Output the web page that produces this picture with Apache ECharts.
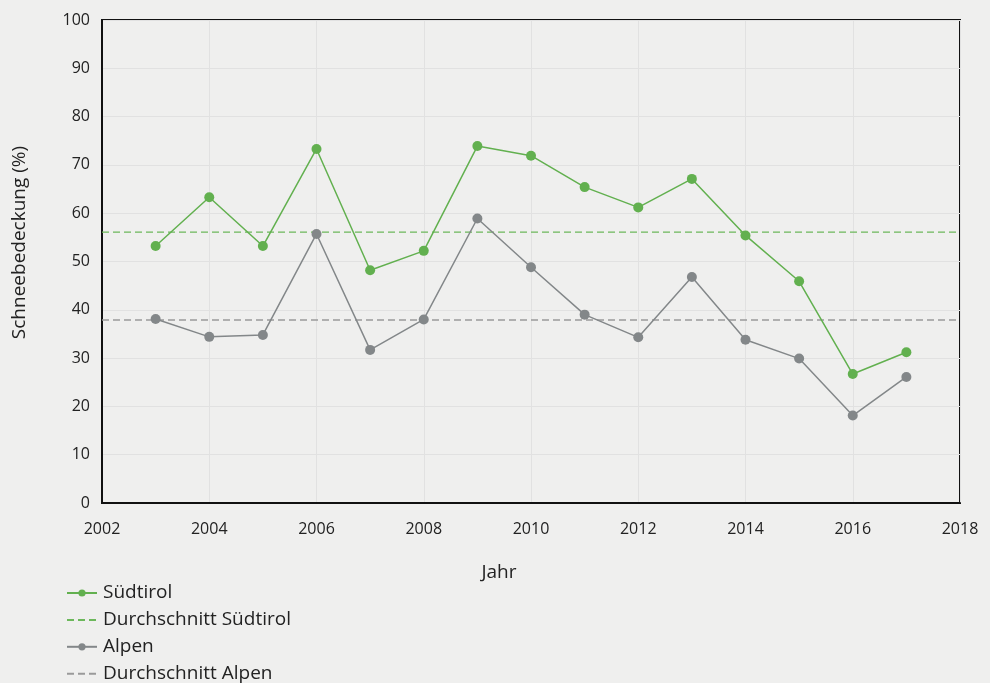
<!DOCTYPE html>
<html>
<head>
<meta charset="utf-8">
<script src="https://cdn.jsdelivr.net/npm/echarts@6/dist/echarts.min.js"></script>
<style>
html,body{margin:0;padding:0;background:#efefee;}
#c{width:990px;height:683px;}
</style>
</head>
<body>
<div id="c"></div>
<script>
const years = [2003,2004,2005,2006,2007,2008,2009,2010,2011,2012,2013,2014,2015,2016,2017];
const suedtirol = [53.2,63.3,53.2,73.3,48.2,52.2,73.9,71.9,65.4,61.2,67.1,55.4,45.9,26.7,31.2];
const alpen = [38.1,34.4,34.8,55.7,31.7,38.0,58.9,48.8,39.0,34.3,46.8,33.8,29.9,18.1,26.1];
const avgSuedtirol = 56.1;
const avgAlpen = 37.9;
const xRange = [2002, 2018];
const names = ['Südtirol','Durchschnitt Südtirol','Alpen','Durchschnitt Alpen'];

const GREEN = '#62b04f';
const GREY = '#838789';
const FONT = 'Open Sans';

const chart = echarts.init(document.getElementById('c'));
chart.setOption({
  backgroundColor: '#efefee',
  animation: false,
  textStyle: {fontFamily: FONT},
  grid: {left: 102, right: 30, top: 20, bottom: 180, show: true, borderColor: '#111', borderWidth: 2, backgroundColor: 'transparent'},
  legend: {
    orient: 'vertical', left: 66, top: 583.5, padding: 0, height: 120, itemGap: 7.9, itemWidth: 30, itemHeight: 9,
    textStyle: {fontFamily: FONT, fontSize: 19, lineHeight: 19, color: '#222', padding: [0,0,0,1]},
    data: [
      {name: names[0]},
      {name: names[1], itemStyle: {opacity: 0}},
      {name: names[2]},
      {name: names[3], itemStyle: {opacity: 0}}
    ]
  },
  xAxis: {
    type: 'value', min: xRange[0], max: xRange[1], interval: 2,
    name: 'Jahr', nameLocation: 'middle', nameGap: 60,
    nameTextStyle: {fontFamily: FONT, fontSize: 19, color: '#222', padding: [0,64,0,0]},
    axisLine: {show: true, lineStyle: {color: '#111', width: 2}},
    axisTick: {show: false},
    axisLabel: {margin: 18, fontSize: 16, color: '#222', fontFamily: FONT, formatter: v => String(v)},
    splitLine: {show: true, lineStyle: {color: '#e1e1e1', width: 1}}
  },
  yAxis: {
    type: 'value', min: 0, max: 100, interval: 10,
    name: 'Schneebedeckung (%)', nameLocation: 'middle', nameGap: 73, nameRotate: 90,
    nameTextStyle: {fontFamily: FONT, fontSize: 19, color: '#222', padding: [0,0,0,38]},
    axisLine: {show: true, lineStyle: {color: '#111', width: 2}},
    axisTick: {show: false},
    axisLabel: {margin: 12, fontSize: 16, color: '#222', fontFamily: FONT},
    splitLine: {show: true, lineStyle: {color: '#e1e1e1', width: 1}}
  },
  series: [
    {name: names[0], type: 'line', data: years.map((y,i)=>[y, suedtirol[i]]),
     symbol: 'circle', symbolSize: 10, itemStyle: {color: GREEN},
     lineStyle: {color: GREEN, width: 1.5}, z: 5},
    {name: names[1], type: 'line', data: [[xRange[0], avgSuedtirol],[xRange[1], avgSuedtirol]],
     symbol: 'none', itemStyle: {color: '#6cb85b'}, lineStyle: {color: '#6cb85b', width: 1.3, type: [7,4]}, z: 3},
    {name: names[2], type: 'line', data: years.map((y,i)=>[y, alpen[i]]),
     symbol: 'circle', symbolSize: 10, itemStyle: {color: GREY},
     lineStyle: {color: GREY, width: 1.5}, z: 4},
    {name: names[3], type: 'line', data: [[xRange[0], avgAlpen],[xRange[1], avgAlpen]],
     symbol: 'none', itemStyle: {color: '#9a9a9a'}, lineStyle: {color: '#9a9a9a', width: 1.5, type: [7,4]}, z: 3}
  ]
});
</script>
</body>
</html>
